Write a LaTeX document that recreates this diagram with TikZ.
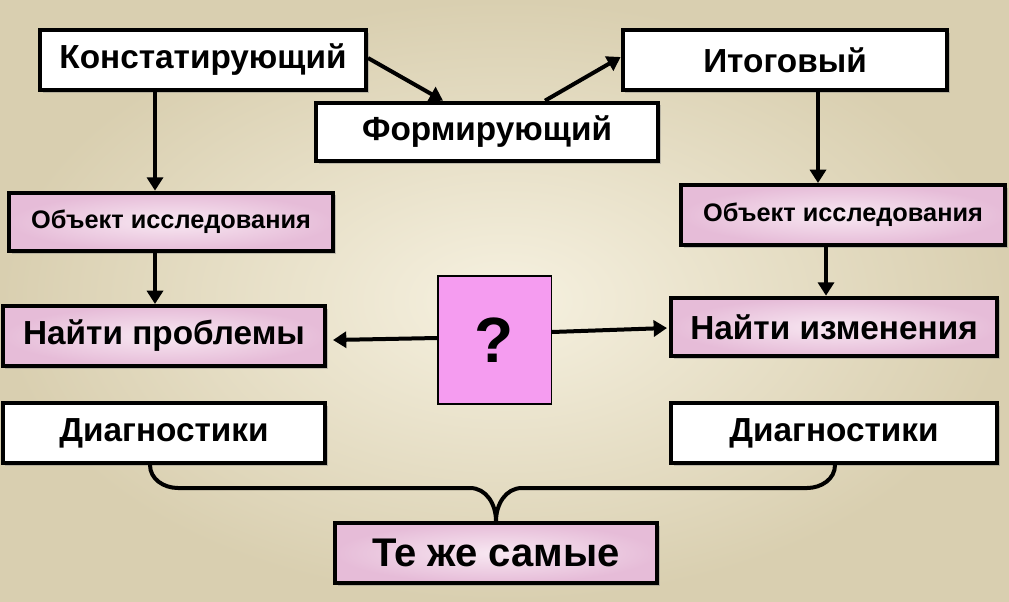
\documentclass[tikz,border=0pt]{standalone}
\usepackage{fontspec}
\setmainfont{Liberation Sans}
\usetikzlibrary{arrows.meta,shadows}
\definecolor{bgin}{HTML}{F6F1E0}
\definecolor{bgout}{HTML}{D9CFB0}
\definecolor{pk}{HTML}{E6BCD8}
\definecolor{pkin}{HTML}{F8E8F2}
\definecolor{mag}{HTML}{F59CF0}
\tikzset{
 wbox/.style={draw=black,line width=3pt,fill=white,text=black,inner sep=0pt,
   drop shadow={shadow xshift=2pt,shadow yshift=-2pt,opacity=0.4}},
 pbox/.style={wbox,inner color=pkin,outer color=pk},
 big/.style={font=\bfseries\fontsize{25}{28}\selectfont},
 small/.style={font=\bfseries\fontsize{19}{22}\selectfont},
 arr/.style={line width=3pt,-{Triangle[length=10pt,width=12pt]}},
}
\begin{document}
\begin{tikzpicture}[x=0.75pt,y=-0.75pt]
\shade[inner color=bgin,outer color=bgout] (0,0) rectangle (1009,601);
\useasboundingbox (0,0) rectangle (1009,601);
\node[wbox,big,minimum width=244.5pt,minimum height=45pt] (k) at (203,60) {Констатирующий};
\node[wbox,big,minimum width=256.5pt,minimum height=44pt] (f) at (487,132) {Формирующий};
\node[wbox,big,minimum width=243.5pt,minimum height=45pt] (i) at (785,60) {Итоговый};
\node[pbox,small,minimum width=243pt,minimum height=44pt] (o1) at (171,222) {Объект исследования};
\node[pbox,small,minimum width=243pt,minimum height=45pt] (o2) at (843,215) {Объект исследования};
\node[pbox,big,minimum width=242pt,minimum height=45pt] (n1) at (164,336) {Найти проблемы};
\node[pbox,big,minimum width=244.5pt,minimum height=44pt] (n2) at (834,327) {Найти изменения};
\node[draw=black,line width=1pt,fill=mag,minimum width=85pt,minimum height=96pt,inner sep=0pt,font=\bfseries\fontsize{48}{50}\selectfont] (q) at (494.5,340) {?};
\node[wbox,big,minimum width=242pt,minimum height=45pt] (d1) at (164,433) {Диагностики};
\node[wbox,big,minimum width=244.5pt,minimum height=45pt] (d2) at (834,433) {Диагностики};
\node[pbox,font=\bfseries\fontsize{30}{32}\selectfont,minimum width=241.5pt,minimum height=45pt] (t) at (496,553) {Те же самые};
\draw[arr] (k.east |- 0,58) -- (f.north -| 443,0);
\draw[arr] (f.north -| 545,0) -- (i.west |- 0,57);
\draw[arr] (k.south -| 155,0) -- (o1.north -| 155,0);
\draw[arr] (o1.south -| 155,0) -- (n1.north -| 155,0);
\draw[arr] (i.south -| 818,0) -- (o2.north -| 818,0);
\draw[arr] (o2.south -| 826,0) -- (n2.north -| 826,0);
\draw[arr] (q.west |- 0,338) -- (333,340);
\draw[arr] (q.east |- 0,332) -- (667,328);
\draw[line width=3pt] (d1.south -| 150,0) to[out=-90,in=180] (178,488) -- (470,488) to[out=0,in=90] (t.north);
\draw[line width=3pt] (d2.south -| 835,0) to[out=-90,in=0] (807,488) -- (522,488) to[out=180,in=90] (t.north);
\end{tikzpicture}
\end{document}
